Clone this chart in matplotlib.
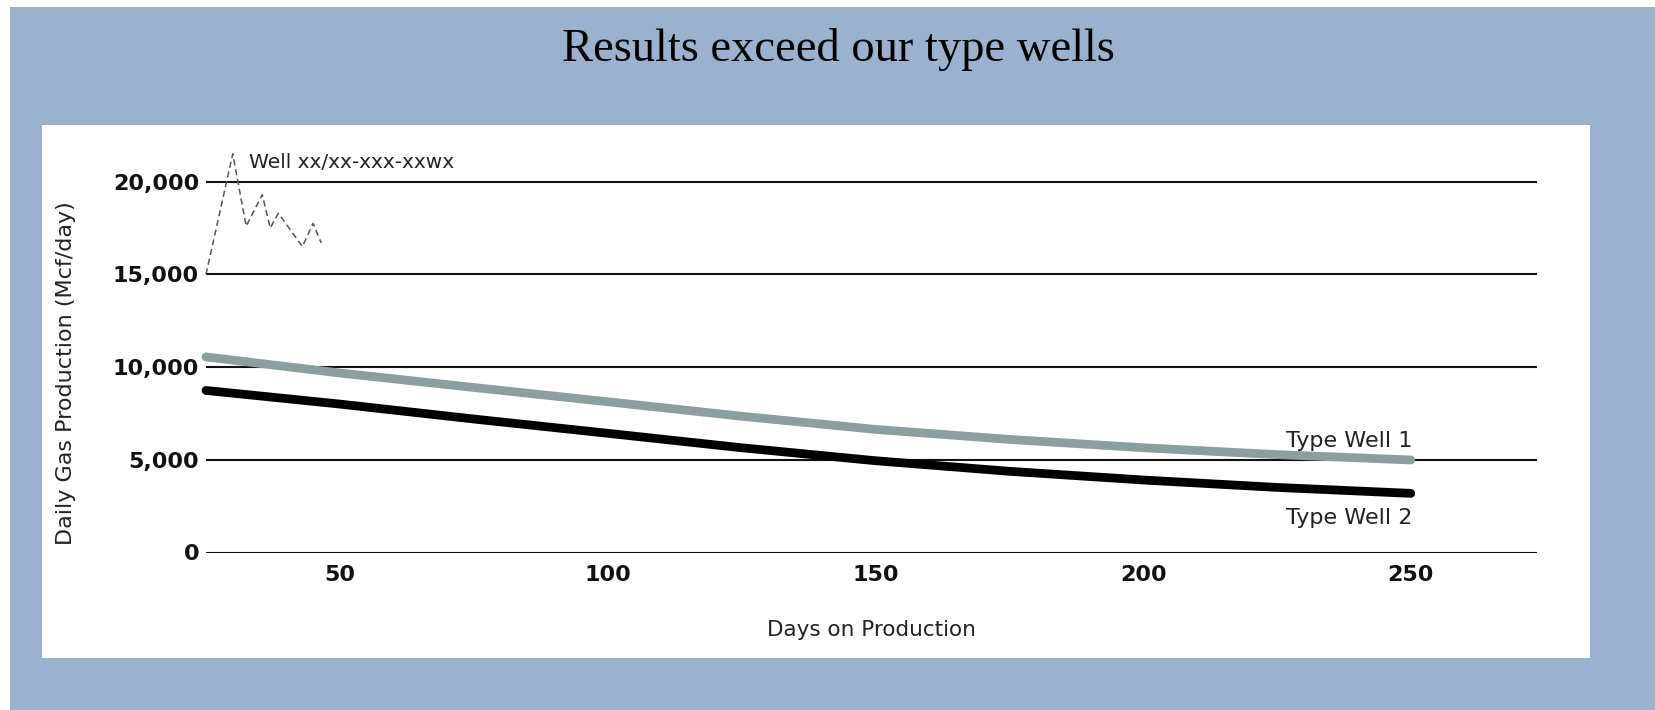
import matplotlib
matplotlib.use("Agg")
import matplotlib.pyplot as plt
from matplotlib.patches import Rectangle

# ---- data ----
days_type = [25, 50, 75, 100, 125, 150, 175, 200, 225, 250]
type_well_1 = [10550, 9680, 8900, 8130, 7350, 6640, 6100, 5650, 5280, 4990]
type_well_2 = [8740, 8005, 7200, 6430, 5650, 4950, 4380, 3910, 3510, 3190]

days_well = [25, 30, 32.5, 35.5, 37, 38.5, 43, 45, 46.5]
well_values = [15000, 21500, 17600, 19300, 17500, 18300, 16500, 17750, 16700]

x_ticks = [50, 100, 150, 200, 250]
y_ticks = [0, 5000, 10000, 15000, 20000]
y_tick_labels = ["0", "5,000", "10,000", "15,000", "20,000"]

title = "Results exceed our type wells"
well_label = "Well xx/xx-xxx-xxwx"

W, H = 1656, 710
BLUE = "#9AB2CE"
GRAY = "#8D9E9F"

fig = plt.figure(figsize=(W / 100, H / 100), dpi=100, facecolor="white")

# blue slide background
fig.patches.append(Rectangle((10 / W, 0), 1 - 10 / W, 1 - 7 / H,
                             transform=fig.transFigure, facecolor=BLUE,
                             edgecolor="none", zorder=0))
# white chart panel
fig.patches.append(Rectangle((42 / W, 1 - 658 / H), (1590 - 42) / W, (658 - 125) / H,
                             transform=fig.transFigure, facecolor="white",
                             edgecolor="none", zorder=1))

fig.text(838 / W, 1 - 61 / H, title, ha="center", va="baseline",
         fontsize=33.5, family="Liberation Serif", color="black")

ax = fig.add_axes([206 / W, 1 - 552.5 / H, (1536.7 - 206) / W, 407.9 / H])
ax.set_facecolor("none")
ax.set_zorder(2)

ax.set_xlim(25, 273.5)
ax.set_ylim(0, 22000)

for s in ax.spines.values():
    s.set_visible(False)

ax.set_yticks(y_ticks)
ax.set_yticklabels(y_tick_labels)
ax.set_xticks(x_ticks)
ax.set_xticklabels([str(t) for t in x_ticks])
ax.tick_params(axis="both", length=0, labelsize=16, colors="#111111")
ax.tick_params(axis="y", pad=5)
ax.tick_params(axis="x", pad=9)
for lab in ax.get_xticklabels() + ax.get_yticklabels():
    lab.set_fontweight("bold")

ax.yaxis.grid(True, color="#111111", linewidth=1.5)
ax.xaxis.grid(False)
ax.set_axisbelow(True)

ax.plot(days_type, type_well_1, color=GRAY, linewidth=6.3, solid_capstyle="round",
        solid_joinstyle="round", clip_on=False, zorder=3)
ax.plot(days_type, type_well_2, color="black", linewidth=6.3, solid_capstyle="round",
        solid_joinstyle="round", clip_on=False, zorder=3)
ax.plot(days_well, well_values, color="#555555", linewidth=1.1, linestyle=(0, (4, 2.5)),
        clip_on=False, zorder=3)

ax.text(33, 20750, well_label, ha="left", va="baseline", fontsize=14.5, color="#222222")
ax.text(250.2, 5700, "Type Well 1", ha="right", va="baseline", fontsize=16, color="#222222")
ax.text(250.2, 1536, "Type Well 2", ha="right", va="baseline", fontsize=16, color="#222222")

ax.set_ylabel("Daily Gas Production (Mcf/day)", fontsize=16, color="#222222", va="center")
ax.yaxis.set_label_coords((66 - 206) / (1536.7 - 206), (552.5 - 373) / 407.9)
ax.set_xlabel("Days on Production", fontsize=15.5, color="#222222", va="center")
ax.xaxis.set_label_coords(0.5, (552.5 - 630) / 407.9)

fig.savefig("out.png", dpi=100, facecolor=fig.get_facecolor())
